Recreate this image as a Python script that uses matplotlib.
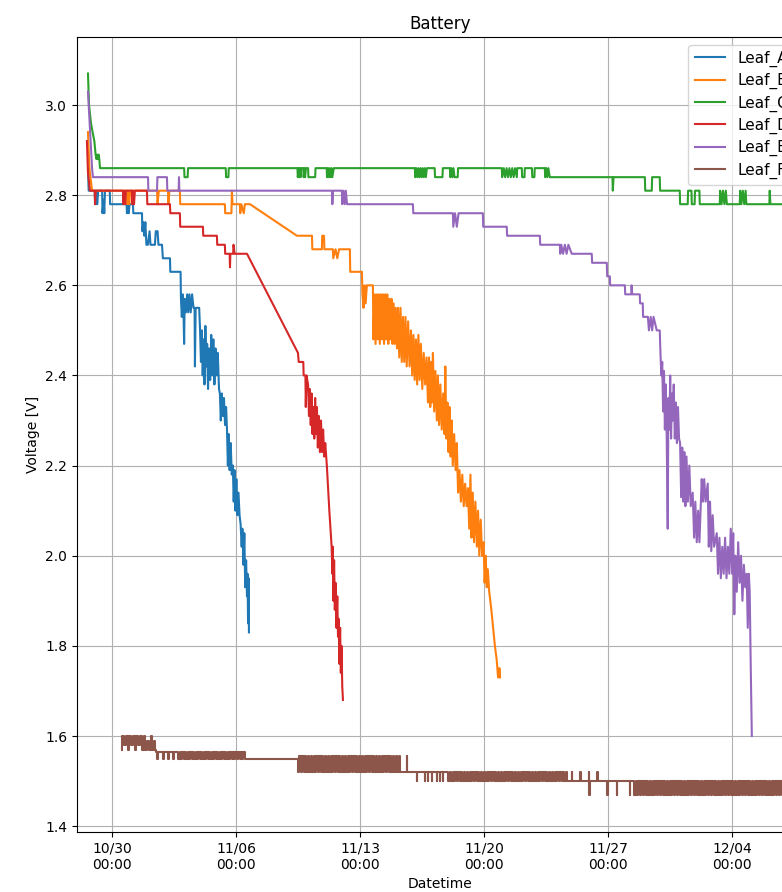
import pandas as pd
import matplotlib
matplotlib.use("Agg")
import matplotlib.pyplot as plt
import matplotlib.dates as mdates

start = pd.Timestamp("2023-10-28 00:00")

# (days since 10/28 00:00, voltage)
leaf_a = [
    (0.62, 2.86), (0.66, 2.81), (1.00, 2.81), (1.02, 2.78), (1.05, 2.81), (1.08, 2.78),
    (1.11, 2.81), (1.14, 2.78), (1.20, 2.81), (1.42, 2.81), (1.44, 2.76), (1.50, 2.79),
    (1.54, 2.76), (1.58, 2.81), (1.85, 2.81), (1.87, 2.78), (2.80, 2.78), (2.82, 2.76),
    (2.88, 2.78), (2.92, 2.76), (2.97, 2.78), (3.16, 2.78), (3.18, 2.76), (3.67, 2.76),
    (3.69, 2.72), (3.75, 2.74), (3.80, 2.71), (3.86, 2.74), (3.92, 2.69), (4.00, 2.69),
    (4.10, 2.72), (4.15, 2.69), (4.40, 2.69), (4.45, 2.72), (4.55, 2.72), (4.60, 2.69),
    (4.80, 2.69), (4.85, 2.66), (5.25, 2.66), (5.27, 2.63), (5.85, 2.63),
    (5.87, 2.57), (5.92, 2.53), (5.97, 2.58), (6.02, 2.53), (6.05, 2.47), (6.08, 2.57),
    (6.15, 2.54), (6.22, 2.58), (6.28, 2.54), (6.35, 2.58), (6.42, 2.54), (6.50, 2.58),
    (6.58, 2.55), (6.64, 2.55), (6.66, 2.42), (6.70, 2.55), (6.90, 2.55), (6.95, 2.50),
    (7.00, 2.43), (7.05, 2.50), (7.10, 2.40), (7.15, 2.48), (7.20, 2.38), (7.25, 2.51),
    (7.30, 2.42), (7.35, 2.47), (7.40, 2.37), (7.45, 2.46), (7.52, 2.39), (7.58, 2.49),
    (7.64, 2.40), (7.70, 2.48), (7.76, 2.38), (7.82, 2.46), (7.88, 2.40), (7.95, 2.45),
    (8.02, 2.37), (8.07, 2.36), (8.12, 2.30), (8.18, 2.36), (8.24, 2.31), (8.30, 2.35),
    (8.36, 2.29), (8.42, 2.33), (8.47, 2.28), (8.52, 2.20), (8.57, 2.27), (8.62, 2.19),
    (8.68, 2.25), (8.74, 2.18), (8.80, 2.20), (8.85, 2.12), (8.90, 2.19), (8.95, 2.10),
    (9.00, 2.17), (9.06, 2.09), (9.12, 2.14), (9.18, 2.09), (9.24, 2.07), (9.30, 2.02),
    (9.34, 2.06), (9.40, 1.98), (9.45, 2.05), (9.50, 1.93), (9.55, 1.99), (9.60, 1.91),
    (9.63, 1.96), (9.66, 1.85), (9.69, 1.95), (9.71, 1.83),
]

leaf_b = [
    (0.62, 2.94), (0.70, 2.86), (0.85, 2.81), (2.82, 2.81), (2.84, 2.78), (2.90, 2.81),
    (2.95, 2.78), (3.00, 2.81), (4.52, 2.81), (4.55, 2.78), (4.62, 2.81), (5.14, 2.81),
    (5.16, 2.78), (5.22, 2.81), (5.81, 2.81), (5.83, 2.78), (8.35, 2.78), (8.37, 2.76),
    (8.72, 2.76), (8.75, 2.81), (8.78, 2.78), (9.20, 2.78), (9.22, 2.76), (9.28, 2.78),
    (9.42, 2.76), (9.48, 2.78), (9.77, 2.78), (12.42, 2.71), (13.27, 2.71), (13.29, 2.68),
    (13.83, 2.68), (13.85, 2.71), (13.95, 2.71), (13.97, 2.68), (14.45, 2.68), (14.47, 2.66),
    (14.60, 2.68), (14.70, 2.66), (14.80, 2.68), (15.41, 2.68), (15.43, 2.63), (16.09, 2.63),
    (16.12, 2.58), (16.18, 2.55), (16.24, 2.60), (16.30, 2.56), (16.37, 2.60), (16.71, 2.60),
    (16.74, 2.48), (16.80, 2.58), (16.86, 2.47), (16.92, 2.58), (16.98, 2.48), (17.04, 2.58),
    (17.10, 2.47), (17.16, 2.58), (17.22, 2.48), (17.28, 2.58), (17.34, 2.47), (17.40, 2.58),
    (17.46, 2.48), (17.52, 2.58), (17.58, 2.47), (17.64, 2.57), (17.70, 2.48), (17.76, 2.57),
    (17.82, 2.47), (17.88, 2.56), (17.94, 2.47), (18.00, 2.55), (18.07, 2.46), (18.13, 2.55),
    (18.20, 2.44), (18.27, 2.55), (18.34, 2.43), (18.41, 2.53), (18.48, 2.43), (18.55, 2.53),
    (18.62, 2.42), (18.70, 2.52), (18.78, 2.42), (18.86, 2.50), (18.93, 2.40), (19.00, 2.49),
    (19.07, 2.39), (19.14, 2.48), (19.21, 2.38), (19.28, 2.49), (19.35, 2.39), (19.42, 2.47),
    (19.50, 2.37), (19.58, 2.45), (19.66, 2.38), (19.74, 2.44), (19.82, 2.34), (19.88, 2.44),
    (19.95, 2.33), (20.00, 2.43), (20.05, 2.34), (20.10, 2.45), (20.17, 2.32), (20.24, 2.41),
    (20.32, 2.30), (20.38, 2.40), (20.45, 2.29), (20.52, 2.38), (20.60, 2.28), (20.68, 2.36),
    (20.75, 2.27), (20.80, 2.42), (20.86, 2.26), (20.92, 2.34), (20.98, 2.23), (21.04, 2.33),
    (21.10, 2.22), (21.16, 2.30), (21.22, 2.20), (21.30, 2.27), (21.38, 2.19), (21.45, 2.25),
    (21.52, 2.14), (21.60, 2.19), (21.68, 2.12), (21.76, 2.18), (21.84, 2.11), (21.92, 2.16),
    (22.00, 2.11), (22.08, 2.15), (22.15, 2.06), (22.22, 2.18), (22.28, 2.04), (22.35, 2.14),
    (22.42, 2.03), (22.50, 2.12), (22.58, 2.02), (22.65, 2.10), (22.72, 2.00), (22.80, 2.08),
    (22.88, 2.00), (22.96, 2.03), (23.02, 1.94), (23.08, 2.00), (23.14, 1.93), (23.20, 1.97),
    (23.28, 1.92), (23.40, 1.88), (23.50, 1.84), (23.60, 1.80), (23.70, 1.77), (23.78, 1.73),
    (23.82, 1.75), (23.88, 1.75), (23.89, 1.73),
]

leaf_c = [
    (0.62, 3.07), (0.68, 3.00), (0.79, 2.96), (0.88, 2.94), (0.98, 2.92), (1.05, 2.89),
    (1.10, 2.88), (1.14, 2.89), (1.18, 2.88), (1.22, 2.89), (1.26, 2.88), (1.30, 2.86),
    (6.05, 2.86), (6.07, 2.84), (6.25, 2.84), (6.27, 2.86), (8.40, 2.86), (8.42, 2.84),
    (8.55, 2.84), (8.57, 2.86), (12.45, 2.86), (12.47, 2.84), (12.52, 2.86), (12.55, 2.84),
    (12.60, 2.86), (12.63, 2.84), (12.66, 2.86), (12.78, 2.86), (12.80, 2.84), (12.85, 2.86),
    (12.88, 2.84), (12.93, 2.86), (13.05, 2.86), (13.07, 2.84), (13.45, 2.84), (13.47, 2.86),
    (14.10, 2.86), (14.12, 2.84), (14.18, 2.86), (14.22, 2.84), (14.28, 2.86), (14.32, 2.84),
    (14.38, 2.86), (14.42, 2.84), (14.50, 2.86), (19.08, 2.86), (19.10, 2.84), (19.16, 2.86),
    (19.22, 2.84), (19.28, 2.86), (19.34, 2.84), (19.40, 2.86), (19.46, 2.84), (19.52, 2.86),
    (19.58, 2.84), (19.64, 2.86), (19.70, 2.84), (19.76, 2.86), (20.20, 2.86), (20.22, 2.84),
    (20.64, 2.84), (20.66, 2.86), (21.06, 2.86), (21.08, 2.84), (21.14, 2.86), (21.20, 2.84),
    (21.26, 2.86), (21.32, 2.84), (21.50, 2.84), (21.52, 2.86), (23.99, 2.86), (24.01, 2.84),
    (24.10, 2.86), (24.18, 2.84), (24.26, 2.86), (24.34, 2.84), (24.42, 2.86), (24.50, 2.84),
    (24.58, 2.86), (24.66, 2.84), (24.74, 2.86), (24.84, 2.84), (24.86, 2.86), (25.12, 2.86),
    (25.14, 2.84), (25.27, 2.84), (25.29, 2.86), (25.69, 2.86), (25.71, 2.84), (25.83, 2.84),
    (25.85, 2.86), (26.42, 2.86), (26.44, 2.84), (26.50, 2.86), (26.56, 2.84), (26.62, 2.86),
    (26.70, 2.84), (30.24, 2.84), (30.26, 2.81), (30.30, 2.84), (32.07, 2.84), (32.09, 2.81),
    (32.46, 2.81), (32.48, 2.84), (32.91, 2.84), (32.93, 2.81), (34.04, 2.81), (34.06, 2.78),
    (34.49, 2.78), (34.51, 2.81), (34.70, 2.81), (34.72, 2.78), (34.88, 2.78), (34.90, 2.81),
    (35.15, 2.81), (35.17, 2.78), (36.30, 2.78), (36.32, 2.81), (36.40, 2.78), (36.48, 2.81),
    (36.56, 2.78), (36.64, 2.81), (36.70, 2.78), (37.43, 2.78), (37.45, 2.81), (37.52, 2.78),
    (37.60, 2.81), (37.68, 2.78), (37.76, 2.81), (37.80, 2.78), (39.10, 2.78), (39.12, 2.81),
    (39.16, 2.78), (40.50, 2.78),
]

leaf_d = [
    (0.56, 2.92), (0.62, 2.85), (0.73, 2.81), (1.00, 2.81), (1.02, 2.78), (1.06, 2.81),
    (2.60, 2.81), (2.62, 2.78), (2.66, 2.81), (2.72, 2.78), (2.76, 2.81), (3.10, 2.81),
    (3.12, 2.78), (3.16, 2.81), (3.22, 2.78), (3.27, 2.81), (3.95, 2.81), (3.97, 2.78),
    (5.25, 2.78), (5.27, 2.76), (5.81, 2.76), (5.83, 2.73), (7.11, 2.73), (7.13, 2.71),
    (7.90, 2.71), (7.92, 2.69), (8.35, 2.69), (8.37, 2.67), (8.62, 2.67), (8.64, 2.64),
    (8.66, 2.67), (8.82, 2.67), (8.84, 2.69), (8.90, 2.67), (9.60, 2.67), (12.48, 2.45),
    (12.52, 2.43), (12.78, 2.43), (12.80, 2.40), (12.90, 2.40), (12.92, 2.33), (12.96, 2.40),
    (13.05, 2.38), (13.10, 2.31), (13.15, 2.37), (13.20, 2.29), (13.25, 2.36), (13.30, 2.27),
    (13.35, 2.33), (13.40, 2.26), (13.45, 2.35), (13.50, 2.27), (13.55, 2.33), (13.60, 2.24),
    (13.66, 2.31), (13.72, 2.23), (13.78, 2.30), (13.84, 2.23), (13.90, 2.28), (13.96, 2.22),
    (14.02, 2.25), (14.11, 2.20), (14.25, 2.10), (14.38, 2.02), (14.42, 1.96), (14.45, 2.02),
    (14.48, 1.90), (14.52, 1.99), (14.56, 1.88), (14.60, 1.94), (14.65, 1.84), (14.70, 1.91),
    (14.74, 1.82), (14.78, 1.86), (14.82, 1.76), (14.86, 1.84), (14.90, 1.74), (14.94, 1.80),
    (14.98, 1.71), (15.02, 1.68),
]

leaf_e = [
    (0.62, 3.03), (0.73, 2.95), (0.85, 2.86), (0.90, 2.84), (4.01, 2.84), (4.03, 2.81),
    (4.52, 2.81), (4.54, 2.84), (5.08, 2.84), (5.10, 2.81), (5.74, 2.81), (5.76, 2.84),
    (5.78, 2.81), (14.40, 2.81), (14.42, 2.78), (14.46, 2.81), (14.96, 2.81), (14.98, 2.78),
    (15.05, 2.81), (15.12, 2.78), (15.18, 2.81), (15.25, 2.78), (18.97, 2.78), (18.99, 2.76),
    (21.23, 2.76), (21.25, 2.73), (21.35, 2.76), (21.45, 2.73), (21.55, 2.76), (22.92, 2.76),
    (22.94, 2.73), (24.27, 2.73), (24.29, 2.71), (26.14, 2.71), (26.16, 2.69), (27.27, 2.69),
    (27.29, 2.67), (27.35, 2.69), (27.45, 2.67), (27.55, 2.69), (27.65, 2.67), (27.75, 2.69),
    (27.94, 2.67), (29.07, 2.67), (29.09, 2.65), (29.92, 2.65), (29.94, 2.62), (30.09, 2.62),
    (30.11, 2.60), (30.94, 2.60), (30.96, 2.58), (31.30, 2.58), (31.32, 2.60), (31.36, 2.58),
    (31.78, 2.58), (31.80, 2.56), (31.95, 2.56), (31.97, 2.53), (32.24, 2.53), (32.30, 2.50),
    (32.40, 2.53), (32.48, 2.50), (32.56, 2.53), (32.74, 2.50), (32.91, 2.50), (32.95, 2.45),
    (33.00, 2.40), (33.05, 2.43), (33.10, 2.32), (33.15, 2.41), (33.20, 2.28), (33.25, 2.38),
    (33.30, 2.27), (33.36, 2.06), (33.40, 2.35), (33.45, 2.28), (33.50, 2.40), (33.55, 2.26),
    (33.60, 2.36), (33.64, 2.30), (33.70, 2.38), (33.76, 2.26), (33.82, 2.34), (33.88, 2.25),
    (33.94, 2.33), (34.00, 2.26), (34.06, 2.25), (34.12, 2.13), (34.18, 2.24), (34.24, 2.12),
    (34.30, 2.23), (34.36, 2.11), (34.42, 2.22), (34.50, 2.12), (34.58, 2.20), (34.66, 2.11),
    (34.77, 2.14), (34.85, 2.04), (34.92, 2.12), (35.00, 2.03), (35.08, 2.10), (35.15, 2.03),
    (35.28, 2.17), (35.35, 2.12), (35.42, 2.17), (35.50, 2.12), (35.62, 2.16), (35.68, 2.02),
    (35.75, 2.12), (35.82, 2.01), (35.90, 2.09), (35.98, 2.02), (36.13, 2.05), (36.20, 1.96),
    (36.28, 2.04), (36.36, 1.95), (36.44, 2.02), (36.52, 1.96), (36.60, 2.04), (36.68, 1.95),
    (36.76, 2.02), (36.84, 1.96), (36.92, 2.06), (37.00, 1.96), (37.06, 2.05), (37.12, 1.87),
    (37.18, 2.00), (37.26, 1.92), (37.34, 2.03), (37.42, 1.94), (37.50, 2.00), (37.58, 1.90),
    (37.66, 1.98), (37.74, 1.93), (37.82, 1.96), (37.88, 1.84), (37.94, 1.96), (37.99, 1.92),
    (38.05, 1.75), (38.11, 1.60),
]

# Leaf_F flips between two neighbouring readings almost every sample
leaf_f = [
    (2.54, 1.57), (2.56, 1.60), (2.66, 1.58), (2.76, 1.60), (2.86, 1.57), (2.96, 1.60),
    (3.06, 1.58), (3.16, 1.60), (3.26, 1.57), (3.36, 1.60), (3.46, 1.58), (3.56, 1.60),
    (3.66, 1.57), (3.76, 1.60), (3.86, 1.57), (3.96, 1.59), (4.06, 1.57), (4.16, 1.60),
    (4.26, 1.57), (4.34, 1.59), (4.40, 1.57), (4.45, 1.565), (4.52, 1.55), (4.56, 1.565),
    (4.85, 1.565), (4.87, 1.55), (4.90, 1.565), (5.12, 1.565), (5.14, 1.55), (5.17, 1.565),
    (5.40, 1.565), (5.42, 1.55), (5.45, 1.565), (5.70, 1.565), (5.72, 1.55),
    (5.80, 1.565), (5.88, 1.55), (5.95, 1.565), (6.03, 1.55), (6.10, 1.565), (6.18, 1.55),
    (6.25, 1.565), (6.33, 1.55), (6.40, 1.565), (6.48, 1.55), (6.55, 1.565), (6.63, 1.55),
    (6.70, 1.565), (6.78, 1.55), (6.85, 1.565), (6.93, 1.55), (7.00, 1.565), (7.08, 1.55),
    (7.15, 1.565), (7.23, 1.55), (7.30, 1.565), (7.38, 1.55), (7.45, 1.565), (7.53, 1.55),
    (7.60, 1.565), (7.68, 1.55), (7.75, 1.565), (7.83, 1.55), (7.90, 1.565), (7.98, 1.55),
    (8.05, 1.565), (8.13, 1.55), (8.20, 1.565), (8.28, 1.55), (8.35, 1.565), (8.43, 1.55),
    (8.50, 1.565), (8.58, 1.55), (8.65, 1.565), (8.73, 1.55), (8.80, 1.565), (8.88, 1.55),
    (8.95, 1.565), (9.03, 1.55), (9.10, 1.565), (9.18, 1.55), (9.25, 1.565), (9.33, 1.55),
    (9.40, 1.565), (9.48, 1.55),
    (12.48, 1.52), (12.56, 1.555), (12.64, 1.52), (12.72, 1.555), (12.80, 1.52), (12.88, 1.555),
    (12.96, 1.52), (13.04, 1.555), (13.12, 1.52), (13.20, 1.555), (13.28, 1.52), (13.36, 1.555),
    (13.44, 1.52), (13.52, 1.555), (13.60, 1.52), (13.68, 1.555), (13.76, 1.52), (13.84, 1.555),
    (13.92, 1.52), (14.00, 1.555), (14.08, 1.52), (14.16, 1.555), (14.24, 1.52), (14.32, 1.555),
    (14.40, 1.52), (14.48, 1.555), (14.56, 1.52), (14.64, 1.555), (14.72, 1.52), (14.80, 1.555),
    (14.88, 1.52), (14.96, 1.555), (15.04, 1.52), (15.12, 1.555), (15.20, 1.52), (15.28, 1.555),
    (15.36, 1.52), (15.44, 1.555), (15.52, 1.52), (15.60, 1.555), (15.68, 1.52), (15.76, 1.555),
    (15.84, 1.52), (15.92, 1.555), (16.00, 1.52), (16.08, 1.555), (16.16, 1.52), (16.24, 1.555),
    (16.32, 1.52), (16.40, 1.555), (16.48, 1.52), (16.56, 1.555), (16.64, 1.52), (16.72, 1.555),
    (16.80, 1.52), (16.88, 1.555), (16.96, 1.52), (17.04, 1.555), (17.12, 1.52), (17.20, 1.555),
    (17.28, 1.52), (17.36, 1.555), (17.44, 1.52), (17.52, 1.555), (17.60, 1.52), (17.68, 1.555),
    (17.76, 1.52), (17.84, 1.555), (17.92, 1.52), (18.00, 1.555), (18.08, 1.52), (18.16, 1.555),
    (18.24, 1.52),
    (18.61, 1.52), (18.63, 1.555), (18.65, 1.52), (19.17, 1.52), (19.19, 1.50), (19.21, 1.52),
    (19.63, 1.52), (19.65, 1.50), (19.67, 1.52), (19.79, 1.52), (19.81, 1.50), (19.83, 1.52),
    (20.02, 1.52), (20.04, 1.50), (20.06, 1.52), (20.30, 1.52), (20.32, 1.50), (20.34, 1.52),
    (20.47, 1.52), (20.49, 1.50), (20.51, 1.52), (20.64, 1.52), (20.66, 1.50), (20.68, 1.52),
    (20.89, 1.52), (20.97, 1.50), (21.05, 1.52), (21.13, 1.50), (21.21, 1.52), (21.29, 1.50),
    (21.37, 1.52), (21.45, 1.50), (21.53, 1.52), (21.61, 1.50), (21.69, 1.52), (21.77, 1.50),
    (21.85, 1.52), (21.93, 1.50), (22.01, 1.52), (22.09, 1.50), (22.17, 1.52), (22.25, 1.50),
    (22.33, 1.52), (22.41, 1.50), (22.49, 1.52), (22.57, 1.50), (22.65, 1.52), (22.73, 1.50),
    (22.81, 1.52), (22.89, 1.50), (22.97, 1.52), (23.05, 1.50), (23.13, 1.52), (23.21, 1.50),
    (23.29, 1.52), (23.37, 1.50), (23.45, 1.52), (23.53, 1.50), (23.61, 1.52), (23.69, 1.50),
    (23.77, 1.52), (23.85, 1.50), (23.93, 1.52), (24.01, 1.50), (24.09, 1.52), (24.17, 1.50),
    (24.25, 1.52), (24.33, 1.50), (24.41, 1.52), (24.49, 1.50), (24.57, 1.52), (24.65, 1.50),
    (24.73, 1.52), (24.81, 1.50), (24.89, 1.52), (24.97, 1.50), (25.05, 1.52), (25.13, 1.50),
    (25.21, 1.52), (25.29, 1.50), (25.37, 1.52), (25.45, 1.50), (25.53, 1.52), (25.61, 1.50),
    (25.69, 1.52), (25.77, 1.50), (25.85, 1.52), (25.93, 1.50), (26.01, 1.52), (26.09, 1.50),
    (26.17, 1.52), (26.25, 1.50), (26.33, 1.52), (26.41, 1.50), (26.49, 1.52), (26.57, 1.50),
    (26.65, 1.52), (26.73, 1.50), (26.81, 1.52), (26.89, 1.50), (26.97, 1.52), (27.05, 1.50),
    (27.13, 1.52), (27.21, 1.50), (27.29, 1.52), (27.37, 1.50), (27.45, 1.52), (27.53, 1.50),
    (27.61, 1.52), (27.69, 1.50),
    (27.94, 1.50), (27.96, 1.52), (27.98, 1.50), (28.40, 1.50), (28.42, 1.52), (28.44, 1.50),
    (28.88, 1.50), (28.90, 1.52), (28.92, 1.47), (28.95, 1.50), (29.36, 1.50), (29.38, 1.52),
    (29.40, 1.50), (29.92, 1.50), (29.94, 1.47), (29.96, 1.50), (30.48, 1.50), (30.50, 1.47),
    (30.52, 1.50), (31.20, 1.50), (31.22, 1.47), (31.24, 1.50),
    (31.39, 1.50), (31.47, 1.47), (31.55, 1.50), (31.63, 1.47), (31.71, 1.50), (31.79, 1.47),
    (31.87, 1.50), (31.95, 1.47), (32.03, 1.50), (32.11, 1.47), (32.19, 1.50), (32.27, 1.47),
    (32.35, 1.50), (32.43, 1.47), (32.51, 1.50), (32.59, 1.47), (32.67, 1.50), (32.75, 1.47),
    (32.83, 1.50), (32.91, 1.47), (32.99, 1.50), (33.07, 1.47), (33.15, 1.50), (33.23, 1.47),
    (33.31, 1.50), (33.39, 1.47), (33.47, 1.50), (33.55, 1.47), (33.63, 1.50), (33.71, 1.47),
    (33.79, 1.50), (33.87, 1.47), (33.95, 1.50), (34.03, 1.47), (34.11, 1.50), (34.19, 1.47),
    (34.27, 1.50), (34.35, 1.47), (34.43, 1.50), (34.51, 1.47), (34.59, 1.50), (34.67, 1.47),
    (34.75, 1.50), (34.83, 1.47), (34.91, 1.50), (34.99, 1.47), (35.07, 1.50), (35.15, 1.47),
    (35.23, 1.50), (35.31, 1.47), (35.39, 1.50), (35.47, 1.47), (35.55, 1.50), (35.63, 1.47),
    (35.71, 1.50), (35.79, 1.47), (35.87, 1.50), (35.95, 1.47), (36.03, 1.50), (36.11, 1.47),
    (36.19, 1.50), (36.27, 1.47), (36.35, 1.50), (36.43, 1.47), (36.51, 1.50), (36.59, 1.47),
    (36.67, 1.50), (36.75, 1.47), (36.83, 1.50), (36.91, 1.47), (36.99, 1.50), (37.07, 1.47),
    (37.15, 1.50), (37.23, 1.47), (37.31, 1.50), (37.39, 1.47), (37.47, 1.50), (37.55, 1.47),
    (37.63, 1.50), (37.71, 1.47), (37.79, 1.50), (37.87, 1.47), (37.95, 1.50), (38.03, 1.47),
    (38.11, 1.50), (38.19, 1.47), (38.27, 1.50), (38.35, 1.47), (38.43, 1.50), (38.51, 1.47),
    (38.59, 1.50), (38.67, 1.47), (38.75, 1.50), (38.83, 1.47), (38.91, 1.50), (38.99, 1.47),
    (39.07, 1.50), (39.15, 1.47), (39.23, 1.50), (39.31, 1.47), (39.39, 1.50), (39.47, 1.47),
    (39.55, 1.50), (39.63, 1.47), (39.71, 1.50), (39.79, 1.47), (39.87, 1.50), (39.95, 1.47),
]

names = ["Leaf_A", "Leaf_B", "Leaf_C", "Leaf_D", "Leaf_E", "Leaf_F"]
series = [leaf_a, leaf_b, leaf_c, leaf_d, leaf_e, leaf_f]
tick_days = [2, 9, 16, 23, 30, 37]


def to_times(days):
    return (start + pd.to_timedelta(days, unit="D")).to_pydatetime()


fig = plt.figure(figsize=(7.82, 8.92), dpi=100)
# the original was wider and got cropped on the right, so the axes run off the edge
ax = fig.add_axes([77 / 782, 60 / 892, 726 / 782, 795 / 892])

for name, pts in zip(names, series):
    days = [p[0] for p in pts]
    volts = [p[1] for p in pts]
    style = "steps-post" if name == "Leaf_F" else "default"
    ax.plot(to_times(days), volts, label=name, drawstyle=style)

ax.set_xlim(to_times([0, 41]))
ax.set_ylim(1.387, 3.151)
ax.set_xticks(to_times(tick_days))
ax.xaxis.set_major_formatter(mdates.DateFormatter("%m/%d\n%H:%M"))

ax.set_title("Battery")
ax.set_xlabel("Datetime")
ax.set_ylabel("Voltage [V]")
ax.grid(True)
ax.legend(loc="upper right", fontsize=11, labelspacing=0.4)

fig.savefig("out.png", dpi=100)
